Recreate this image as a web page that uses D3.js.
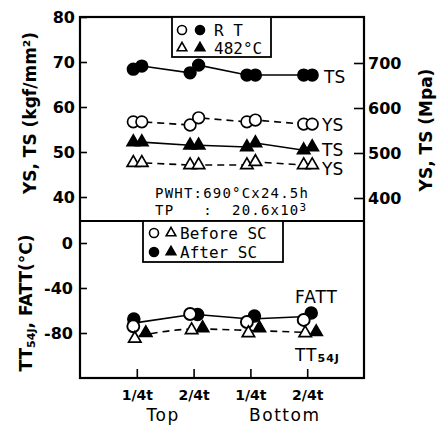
<!DOCTYPE html>
<html>
<head>
<meta charset="utf-8">
<script src="https://cdn.jsdelivr.net/npm/d3@7"></script>
<style>
  body { margin: 0; background: #fff; }
  svg { display: block; }
  .tick text { font-family: "DejaVu Sans", sans-serif; font-weight: bold; fill: #000; }
  .mono { font-family: "DejaVu Sans Mono", monospace; }
</style>
</head>
<body>
<svg id="chart" width="448" height="428"></svg>
<script>
// x categories (location through thickness)
var categories = ["1/4t", "2/4t", "1/4t", "2/4t"];
var positions = ["Top", "Bottom"];

// tick values
var leftTicks = [40, 50, 60, 70, 80];
var rightTicks = [400, 500, 600, 700];
var lowerTicks = [-80, -40, 0];

// tensile data, two specimens per location (kgf/mm2)
var tsRT  = [[68.4, 69.1], [67.6, 69.3], [67.1, 67.1], [67.1, 67.1]];
var ysRT  = [[56.7, 56.7], [56.0, 57.6], [56.7, 57.1], [56.2, 56.2]];
var ts482 = [[52.2, 52.2], [51.5, 51.5], [51.1, 52.0], [50.4, 51.1]];
var ys482 = [[47.6, 47.6], [47.1, 47.1], [47.1, 47.8], [47.1, 47.1]];

// toughness data (deg C)
var fattBefore = [-74.0, -63.1, -70.2, -68.4];
var fattAfter  = [-67.5, -63.6, -64.9, -62.2];
var ttBefore   = [-85.0, -77.3, -80.0, -80.0];
var ttAfter    = [-80.0, -75.6, -75.6, -79.1];

var svg = d3.select("#chart");
var L = 80, R = 364, T = 17, B = 378, S = 221;

var x = d3.scaleLinear().domain([-1, 4]).range([L, R]);
var yUp = d3.scaleLinear().domain([40, 80]).range([197, T]);
var yMpa = d3.scaleLinear().domain([400, 700]).range([198, 63]);
var yLow = d3.scaleLinear().domain([-80, 0]).range([333, 243]);

var tri = d3.symbol().type(d3.symbolTriangle).size(66);

// axes
var axL = svg.append("g").attr("transform", "translate(" + L + ",0)")
    .call(d3.axisLeft(yUp).tickValues(leftTicks).tickSize(-7).tickPadding(5));
var axR = svg.append("g").attr("transform", "translate(" + R + ",0)")
    .call(d3.axisRight(yMpa).tickValues(rightTicks).tickSize(-10).tickPadding(4));
var axLow = svg.append("g").attr("transform", "translate(" + L + ",0)")
    .call(d3.axisLeft(yLow).tickValues(lowerTicks).tickSize(-7).tickPadding(7));
var axX = svg.append("g").attr("transform", "translate(0," + B + ")")
    .call(d3.axisBottom(x).tickValues([0, 1, 2, 3]).tickSize(-9).tickPadding(9)
        .tickFormat(function(i){ return categories[i]; }));
[axL, axR, axLow, axX].forEach(function(a){
    a.select(".domain").remove();
    a.selectAll("line").attr("stroke", "#000").attr("stroke-width", 1.6);
    a.selectAll("text").attr("font-size", 16);
});
axX.selectAll("text").attr("font-size", 14).attr("dy", "0.9em");
axLow.selectAll("text").text(function(d){ return d < 0 ? "-" + (-d) : d; });

// frame and divider
svg.append("rect").attr("x", L).attr("y", T).attr("width", R - L).attr("height", B - T)
    .attr("fill", "none").attr("stroke", "#000").attr("stroke-width", 2.2);
svg.append("line").attr("x1", L).attr("x2", R).attr("y1", S).attr("y2", S)
    .attr("stroke", "#000").attr("stroke-width", 2.2);

// group labels under x axis
positions.forEach(function(p, i){
    svg.append("text").attr("x", x(i * 2 + 0.5) + (i ? 6 : -2)).attr("y", 421)
        .attr("text-anchor", "middle").attr("font-family", "DejaVu Sans, sans-serif")
        .attr("font-size", 17).attr("letter-spacing", 1.5).text(p);
});

// axis titles
function vtitle(cx, cy, size){
    return svg.append("text").attr("transform", "translate(" + cx + "," + cy + ") rotate(-90)")
        .attr("text-anchor", "middle").attr("font-family", "DejaVu Sans, sans-serif")
        .attr("font-weight", "bold").attr("font-size", size);
}
vtitle(36, 113, 17).text("YS, TS (kgf/mm²)");
vtitle(432, 130, 17).text("YS, TS (Mpa)");
var lt = vtitle(32, 303, 17);
lt.append("tspan").text("TT");
lt.append("tspan").attr("font-size", 11).attr("dy", 3).text("54J");
lt.append("tspan").attr("dy", -3).text(", FATT(°C)");

// upper panel series
var offs = [-3.5, 5];
function pairPoints(data, scale){
    var pts = [];
    data.forEach(function(pair, i){
        pair.forEach(function(v, j){ pts.push([x(i) + offs[j], scale(v)]); });
    });
    return pts;
}
var line = d3.line();
function drawUpper(data, filled, shape, dashed){
    var pts = pairPoints(data, yUp);
    svg.append("path").attr("d", line(pts)).attr("fill", "none").attr("stroke", "#000")
        .attr("stroke-width", 1.6).attr("stroke-dasharray", dashed ? "7,5" : null);
    pts.forEach(function(p){
        var m;
        if (shape === "circle") m = svg.append("circle").attr("cx", p[0]).attr("cy", p[1]).attr("r", 5.8);
        else m = svg.append("path").attr("d", tri()).attr("transform", "translate(" + p[0] + "," + p[1] + ")");
        m.attr("fill", filled ? "#000" : "#fff").attr("stroke", "#000").attr("stroke-width", 1.7);
    });
    return pts;
}
drawUpper(tsRT, true, "circle", false);
drawUpper(ysRT, false, "circle", true);
drawUpper(ts482, true, "tri", false);
drawUpper(ys482, false, "tri", true);

function label(px, py, txt, size){
    return svg.append("text").attr("x", px).attr("y", py).attr("font-family", "DejaVu Sans, sans-serif")
        .attr("font-size", size || 17).text(txt);
}
label(324, yUp(tsRT[3][1]) + 8, "TS");
label(322, yUp(ysRT[3][1]) + 7, "YS");
label(322, yUp(ts482[3][1]) + 9, "TS");
label(322, yUp(ys482[3][1]) + 10, "YS");

// lower panel series
function mean(a, b){ return a.map(function(v, i){ return (v + b[i]) / 2; }); }
svg.append("path").attr("d", line(mean(fattBefore, fattAfter).map(function(v, i){ return [x(i), yLow(v)]; })))
    .attr("fill", "none").attr("stroke", "#000").attr("stroke-width", 1.6);
svg.append("path").attr("d", d3.line().curve(d3.curveMonotoneX)(mean(ttBefore, ttAfter).map(function(v, i){ return [x(i) + 2, yLow(v)]; })))
    .attr("fill", "none").attr("stroke", "#000").attr("stroke-width", 1.6).attr("stroke-dasharray", "7,5");

fattAfter.forEach(function(v, i){
    svg.append("circle").attr("cx", x(i) + (i ? 4 : -3)).attr("cy", yLow(v)).attr("r", 6)
        .attr("fill", "#000").attr("stroke", "#000").attr("stroke-width", 1.6);
});
fattBefore.forEach(function(v, i){
    svg.append("circle").attr("cx", x(i) - 3.5).attr("cy", yLow(v)).attr("r", 6)
        .attr("fill", "#fff").attr("stroke", "#000").attr("stroke-width", 1.9);
});
ttAfter.forEach(function(v, i){
    svg.append("path").attr("d", tri()).attr("transform", "translate(" + (x(i) + 9) + "," + yLow(v) + ")")
        .attr("fill", "#000").attr("stroke", "#000").attr("stroke-width", 1.6);
});
ttBefore.forEach(function(v, i){
    svg.append("path").attr("d", tri()).attr("transform", "translate(" + (x(i) - 2) + "," + yLow(v) + ")")
        .attr("fill", "#fff").attr("stroke", "#000").attr("stroke-width", 1.7);
});
label(295, 303, "FATT", 17).attr("letter-spacing", 1);
var tt = label(295, 361, "TT", 17).attr("letter-spacing", 1);
tt.append("tspan").attr("font-size", 11).attr("font-weight", "bold").attr("dy", 1).text("54J");

// legends
function legendBox(bx, by, bw, bh, rows){
    svg.append("rect").attr("x", bx).attr("y", by).attr("width", bw).attr("height", bh)
        .attr("fill", "#fff").attr("stroke", "#000").attr("stroke-width", 1.8);
    rows.forEach(function(r){
        r.marks.forEach(function(m){
            var el;
            if (m.shape === "circle") el = svg.append("circle").attr("cx", m.x).attr("cy", r.y).attr("r", 4.5);
            else el = svg.append("path").attr("d", d3.symbol().type(d3.symbolTriangle).size(40)())
                .attr("transform", "translate(" + m.x + "," + r.y + ")");
            el.attr("fill", m.filled ? "#000" : "#fff").attr("stroke", "#000").attr("stroke-width", 1.6);
        });
        svg.append("text").attr("class", "mono").attr("x", r.tx).attr("y", r.y + 6)
            .attr("font-size", 16).text(r.text);
    });
}
legendBox(172, T, 99, 40, [
    {y: 30, tx: 214, text: "R T", marks: [{x: 182, shape: "circle"}, {x: 200, shape: "circle", filled: true}]},
    {y: 48, tx: 214, text: "482°C", marks: [{x: 182, shape: "tri"}, {x: 200, shape: "tri", filled: true}]}
]);
legendBox(143, S, 140, 41, [
    {y: 233, tx: 180, text: "Before SC", marks: [{x: 154, shape: "circle"}, {x: 171, shape: "tri"}]},
    {y: 252, tx: 180, text: "After SC", marks: [{x: 154, shape: "circle", filled: true}, {x: 171, shape: "tri", filled: true}]}
]);

// conditions note
svg.append("text").attr("class", "mono").attr("x", 155).attr("y", 198).attr("font-size", 14)
    .attr("letter-spacing", 1.2).text("PWHT:690°Cx24.5h");
var tp = svg.append("text").attr("class", "mono").attr("x", 155).attr("y", 215).attr("font-size", 14)
    .attr("letter-spacing", 1.2).attr("xml:space", "preserve").text("TP   :  20.6x10");
tp.append("tspan").attr("dy", -4).attr("font-size", 11).text("3");
</script>
</body>
</html>
